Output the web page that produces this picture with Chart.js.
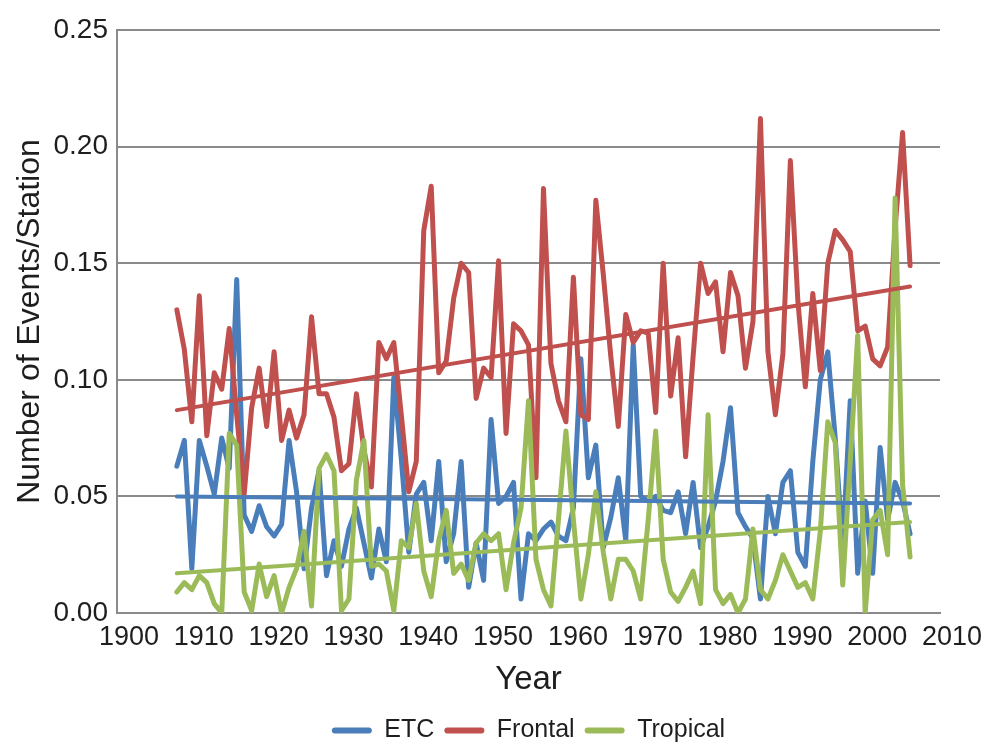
<!DOCTYPE html>
<html lang="en">
<head>
<meta charset="UTF-8">
<title>Number of Events per Station</title>
<script src="https://cdn.jsdelivr.net/npm/chart.js"></script>
<style>
    html, body { margin: 0; padding: 0; background: #fff; }
    #wrap { position: relative; width: 989px; height: 744px; }
</style>
</head>
<body>
<div id="wrap"><canvas id="eventsChart"></canvas></div>
<script>
const years = [
    1908, 1909, 1910, 1911, 1912, 1913, 1914, 1915, 1916, 1917,
    1918, 1919, 1920, 1921, 1922, 1923, 1924, 1925, 1926, 1927,
    1928, 1929, 1930, 1931, 1932, 1933, 1934, 1935, 1936, 1937,
    1938, 1939, 1940, 1941, 1942, 1943, 1944, 1945, 1946, 1947,
    1948, 1949, 1950, 1951, 1952, 1953, 1954, 1955, 1956, 1957,
    1958, 1959, 1960, 1961, 1962, 1963, 1964, 1965, 1966, 1967,
    1968, 1969, 1970, 1971, 1972, 1973, 1974, 1975, 1976, 1977,
    1978, 1979, 1980, 1981, 1982, 1983, 1984, 1985, 1986, 1987,
    1988, 1989, 1990, 1991, 1992, 1993, 1994, 1995, 1996, 1997,
    1998, 1999, 2000, 2001, 2002, 2003, 2004, 2005, 2006
];
const etc = [
    0.063, 0.074, 0.019, 0.074, 0.063, 0.051, 0.075, 0.062, 0.143, 0.042,
    0.035, 0.046, 0.037, 0.033, 0.038, 0.074, 0.052, 0.019, 0.045, 0.061,
    0.016, 0.031, 0.020, 0.036, 0.045, 0.030, 0.015, 0.036, 0.022, 0.101,
    0.066, 0.026, 0.051, 0.056, 0.031, 0.065, 0.022, 0.034, 0.065, 0.011,
    0.030, 0.014, 0.083, 0.047, 0.050, 0.056, 0.006, 0.034, 0.031, 0.036,
    0.039, 0.033, 0.031, 0.045, 0.109, 0.058, 0.072, 0.028, 0.041, 0.058,
    0.031, 0.115, 0.050, 0.048, 0.050, 0.044, 0.043, 0.052, 0.034, 0.056,
    0.028, 0.037, 0.048, 0.065, 0.088, 0.043, 0.037, 0.032, 0.006, 0.050,
    0.034, 0.056, 0.061, 0.026, 0.020, 0.065, 0.100, 0.112, 0.075, 0.028,
    0.091, 0.017, 0.048, 0.017, 0.071, 0.040, 0.056, 0.048, 0.034
];
const frontal = [
    0.130, 0.113, 0.082, 0.136, 0.076, 0.103, 0.096, 0.122, 0.085, 0.051,
    0.088, 0.105, 0.080, 0.112, 0.074, 0.087, 0.075, 0.085, 0.127, 0.094,
    0.094, 0.084, 0.061, 0.064, 0.094, 0.070, 0.054, 0.116, 0.109, 0.116,
    0.085, 0.052, 0.065, 0.164, 0.183, 0.103, 0.108, 0.135, 0.150, 0.146,
    0.092, 0.105, 0.101, 0.151, 0.077, 0.124, 0.121, 0.115, 0.058, 0.182,
    0.107, 0.091, 0.082, 0.144, 0.085, 0.083, 0.177, 0.145, 0.110, 0.080,
    0.128, 0.116, 0.121, 0.120, 0.086, 0.150, 0.093, 0.118, 0.067, 0.110,
    0.150, 0.137, 0.142, 0.112, 0.146, 0.136, 0.105, 0.125, 0.212, 0.112,
    0.085, 0.111, 0.194, 0.134, 0.097, 0.137, 0.104, 0.150, 0.164, 0.160,
    0.155, 0.121, 0.123, 0.109, 0.106, 0.114, 0.165, 0.206, 0.149
];
const tropical = [
    0.009, 0.013, 0.010, 0.016, 0.013, 0.004, 0.000, 0.077, 0.072, 0.009,
    0.001, 0.021, 0.007, 0.016, 0.000, 0.011, 0.019, 0.035, 0.003, 0.062,
    0.068, 0.061, 0.001, 0.006, 0.057, 0.074, 0.020, 0.021, 0.018, 0.001,
    0.031, 0.028, 0.047, 0.018, 0.007, 0.031, 0.044, 0.017, 0.021, 0.014,
    0.030, 0.034, 0.031, 0.034, 0.010, 0.030, 0.045, 0.091, 0.023, 0.010,
    0.003, 0.040, 0.078, 0.040, 0.006, 0.025, 0.052, 0.026, 0.006, 0.023,
    0.023, 0.018, 0.006, 0.040, 0.078, 0.023, 0.009, 0.005, 0.011, 0.018,
    0.004, 0.085, 0.010, 0.004, 0.008, 0.000, 0.006, 0.036, 0.010, 0.006,
    0.014, 0.025, 0.018, 0.011, 0.013, 0.006, 0.035, 0.082, 0.073, 0.012,
    0.065, 0.119, 0.000, 0.040, 0.044, 0.025, 0.178, 0.055, 0.024
];

// linear trend lines: value at the first and the last year
const trendYears = [1908, 2006];
const etcTrend = [0.050, 0.047];
const frontalTrend = [0.087, 0.140];
const tropicalTrend = [0.017, 0.039];

const xTicks = [1900, 1910, 1920, 1930, 1940, 1950, 1960, 1970, 1980, 1990, 2000, 2010];
const yTicks = [0, 0.05, 0.10, 0.15, 0.20, 0.25];

const BLUE = '#4a7ebb';
const RED = '#c0504d';
const GREEN = '#9bbb59';
const GRID = '#8a8a8a';
const TEXT = '#1e1e1e';

Chart.defaults.font.family = '"Liberation Sans", Arial, sans-serif';
Chart.defaults.color = TEXT;

function points(xs, ys) {
    return xs.map((x, i) => ({ x: x, y: ys[i] }));
}

function series(label, xs, ys, color, width, order) {
    return {
        label: label,
        data: points(xs, ys),
        borderColor: color,
        backgroundColor: color,
        borderWidth: width,
        pointRadius: 0,
        order: order
    };
}

const ctx = document.getElementById('eventsChart').getContext('2d');
new Chart(ctx, {
    type: 'line',
    data: {
        datasets: [
            series('ETC', years, etc, BLUE, 5, 3),
            series('Frontal', years, frontal, RED, 5, 2),
            series('Tropical', years, tropical, GREEN, 5, 1),
            series('ETC trend', trendYears, etcTrend, BLUE, 4, 0),
            series('Frontal trend', trendYears, frontalTrend, RED, 4, 0),
            series('Tropical trend', trendYears, tropicalTrend, GREEN, 4, 0)
        ]
    },
    options: {
        responsive: true,
        maintainAspectRatio: false,
        animation: false,
        layout: { padding: { left: 0, right: 49, top: 30, bottom: -9 } },
        elements: {
            line: { tension: 0, borderJoinStyle: 'round', borderCapStyle: 'round' }
        },
        plugins: {
            tooltip: { enabled: false },
            legend: {
                position: 'bottom',
                fullSize: false,
                labels: {
                    boxWidth: 40,
                    boxHeight: 6,
                    padding: 10,
                    font: { size: 25 },
                    generateLabels: function(chart) {
                        return Chart.defaults.plugins.legend.labels.generateLabels(chart)
                            .filter(item => item.datasetIndex < 3)
                            .sort((a, b) => a.datasetIndex - b.datasetIndex)
                            .map(item => Object.assign(item, { lineWidth: 0, borderRadius: 3 }));
                    }
                }
            }
        },
        scales: {
            x: {
                type: 'linear',
                min: 1900,
                max: 2010,
                afterBuildTicks: scale => { scale.ticks = xTicks.map(v => ({ value: v })); },
                afterFit: scale => { scale.height = 95; },
                ticks: {
                    padding: 8,
                    labelOffset: 12,
                    maxRotation: 0,
                    autoSkip: false,
                    font: { size: 27 },
                    callback: v => String(v)
                },
                grid: { display: false, drawTicks: false },
                border: { display: true, color: GRID, width: 2 },
                title: {
                    display: true,
                    text: 'Year',
                    font: { size: 33 },
                    padding: { top: 0, bottom: 8 }
                }
            },
            y: {
                min: 0,
                max: 0.25,
                afterBuildTicks: scale => { scale.ticks = yTicks.map(v => ({ value: v })); },
                afterFit: scale => { scale.width = 117; },
                ticks: {
                    padding: 9,
                    font: { size: 28 },
                    callback: v => v.toFixed(2)
                },
                grid: { color: GRID, lineWidth: 2, drawTicks: false },
                border: { display: true, color: GRID, width: 2 },
                title: {
                    display: true,
                    text: 'Number of Events/Station',
                    font: { size: 32 },
                    padding: { top: 11, bottom: 0 }
                }
            }
        }
    }
});
</script>
</body>
</html>
